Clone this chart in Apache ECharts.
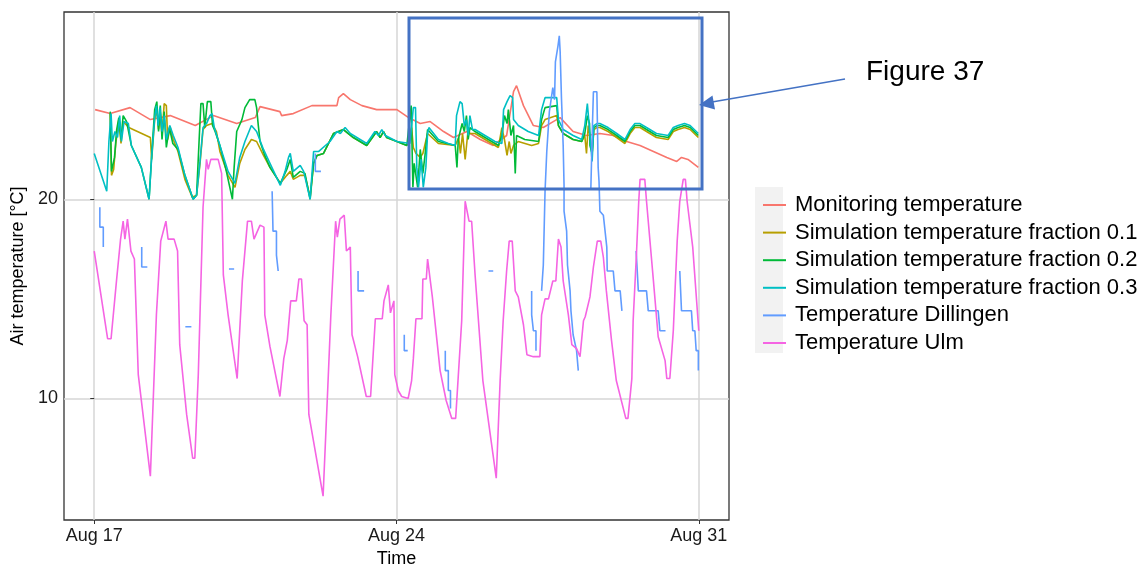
<!DOCTYPE html>
<html>
<head>
<meta charset="utf-8">
<script src="https://cdn.jsdelivr.net/npm/echarts@6/dist/echarts.min.js"></script>
<style>
html, body { margin: 0; padding: 0; background: #fff; }
#chart { width: 1147px; height: 566px; }
</style>
</head>
<body>
<div id="chart"></div>
<script>
// x = days since Aug 17 00:00, y = air temperature in °C
var xTickValues = [0, 7, 14];
var xTickLabels = ['Aug 17', 'Aug 24', 'Aug 31'];
var yTickValues = [10, 20];

var seriesNames = ['Monitoring temperature', 'Simulation temperature fraction 0.1',
    'Simulation temperature fraction 0.2', 'Simulation temperature fraction 0.3',
    'Temperature Dillingen', 'Temperature Ulm'];
var seriesColors = ['#F8766D', '#B79F00', '#00BA38', '#00BFC4', '#619CFF', '#F564E3'];

var monitoring = [[0.02,24.5],[0.37,24.3],[0.83,24.6],[1.30,24.0],[1.76,24.2],[2.34,23.7],[2.76,24.2],[3.30,23.8],
    [3.73,24.1],[3.84,24.65],[4.30,24.4],[4.34,24.2],[4.61,24.3],[5.04,24.7],[5.62,24.7],[5.66,25.1],[5.77,25.3],
    [5.93,25.0],[6.20,24.7],[6.54,24.5],[7.01,24.5],[7.28,24.1],[7.55,23.8],[7.78,23.9],[8.09,23.4],[8.32,23.1],
    [8.63,23.4],[8.94,23.0],[9.24,22.7],[9.55,23.2],[9.71,25.4],[9.78,25.7],[9.94,24.7],[10.17,23.7],[10.40,23.6],
    [10.63,23.9],[10.79,24.1],[11.09,23.4],[11.40,23.2],[11.71,23.3],[12.02,23.2],[12.33,22.9],[12.64,22.7],
    [12.95,22.4],[13.26,22.1],[13.49,21.9],[13.60,22.1],[13.75,22.0],[13.99,21.6]];

var simFraction01 = [[0.37,24.3],[0.40,21.2],[0.45,21.5],[0.50,22.8],[0.57,24.0],[0.62,22.8],[0.67,23.9],[0.80,23.6],
    [1.00,23.4],[1.30,23.1],[1.33,22.0],[1.40,24.0],[1.45,24.5],[1.49,23.5],[1.53,24.3],[1.57,23.2],[1.62,24.8],
    [1.67,24.7],[1.70,23.0],[1.76,23.6],[1.83,23.0],[1.94,22.4],[2.10,21.0],[2.27,20.1],[2.37,20.2],[2.45,21.8],
    [2.52,23.5],[2.60,23.7],[2.73,23.8],[2.83,23.4],[2.91,22.4],[3.10,21.2],[3.26,20.6],[3.37,21.8],[3.49,22.5],
    [3.64,23.0],[3.76,22.9],[3.92,22.2],[4.07,21.6],[4.31,20.8],[4.46,21.2],[4.54,21.4],[4.61,21.0],[4.77,21.2],
    [4.88,21.2],[5.00,20.1],[5.08,21.8],[5.16,22.2],[5.31,22.3],[5.54,23.3],[5.77,23.5],[6.00,23.1],[6.31,22.7],
    [6.54,23.4],[6.62,23.1],[6.70,23.4],[6.77,23.1],[7.01,22.9],[7.24,22.7],[7.35,23.6],[7.39,22.6],[7.45,22.3],
    [7.55,22.1],[7.61,22.3],[7.72,23.3],[7.97,22.8],[8.36,22.7],[8.44,23.1],[8.48,22.3],[8.53,23.3],[8.59,22.0],
    [8.65,23.3],[8.82,23.3],[9.05,23.0],[9.36,22.6],[9.44,23.6],[9.50,23.0],[9.56,22.2],[9.61,22.9],[9.65,22.3],
    [9.71,22.7],[9.82,22.9],[10.13,22.7],[10.29,22.8],[10.36,23.7],[10.44,24.0],[10.71,24.2],[10.75,23.7],
    [10.86,23.3],[11.09,23.0],[11.29,22.9],[11.36,23.2],[11.40,22.3],[11.44,23.7],[11.48,23.2],[11.53,22.3],
    [11.57,23.5],[11.64,23.6],[11.71,23.6],[11.90,23.4],[12.10,23.1],[12.29,22.8],[12.41,23.3],[12.52,23.6],
    [12.64,23.6],[12.79,23.4],[13.02,23.1],[13.29,23.0],[13.41,23.4],[13.52,23.5],[13.67,23.6],[13.80,23.5],[13.99,23.1]];

var simFraction02 = [[0.37,24.4],[0.40,21.4],[0.47,22.1],[0.52,23.5],[0.57,24.1],[0.62,23.0],[0.67,24.2],[0.75,23.9],
    [0.86,22.7],[1.09,21.6],[1.27,20.0],[1.33,22.2],[1.40,24.5],[1.45,24.9],[1.49,23.4],[1.53,24.7],[1.57,23.0],
    [1.62,24.4],[1.67,22.6],[1.74,23.6],[1.82,22.8],[1.94,22.5],[2.10,21.2],[2.29,20.0],[2.37,20.2],[2.43,23.0],
    [2.47,24.8],[2.52,24.8],[2.56,23.6],[2.62,24.9],[2.70,24.9],[2.74,23.7],[2.80,23.4],[2.91,22.7],[3.05,21.5],
    [3.20,20.0],[3.24,21.6],[3.30,23.4],[3.42,24.0],[3.49,24.6],[3.60,25.0],[3.72,25.0],[3.76,24.6],[3.80,23.7],
    [3.84,22.9],[3.95,22.2],[4.07,21.6],[4.31,20.8],[4.46,21.5],[4.54,22.0],[4.61,21.1],[4.77,21.4],[4.88,21.3],
    [5.00,20.0],[5.08,21.8],[5.16,22.2],[5.31,22.3],[5.54,23.3],[5.77,23.5],[6.00,23.1],[6.31,22.7],[6.54,23.4],
    [6.62,23.1],[6.70,23.4],[6.77,23.1],[7.01,22.9],[7.24,22.7],[7.34,24.7],[7.38,20.6],[7.41,21.8],[7.49,20.6],
    [7.55,22.5],[7.61,21.3],[7.66,22.2],[7.72,23.5],[7.75,23.5],[7.97,22.9],[8.36,22.7],[8.40,21.6],[8.43,23.0],
    [8.52,23.8],[8.57,23.4],[8.62,24.2],[8.66,23.0],[8.70,23.6],[8.82,23.4],[9.05,23.1],[9.36,22.7],[9.44,23.2],
    [9.50,24.2],[9.56,23.8],[9.59,24.5],[9.65,23.2],[9.71,23.7],[9.75,21.3],[9.78,23.2],[9.97,23.0],[10.29,22.9],
    [10.36,24.0],[10.44,24.6],[10.71,24.7],[10.75,23.7],[10.86,23.3],[11.09,23.0],[11.29,22.9],[11.36,23.3],
    [11.42,24.2],[11.47,23.8],[11.48,22.7],[11.53,22.3],[11.57,23.6],[11.64,23.7],[11.71,23.7],[11.90,23.5],
    [12.10,23.2],[12.29,22.9],[12.41,23.4],[12.52,23.7],[12.64,23.7],[12.79,23.5],[13.02,23.2],[13.29,23.1],
    [13.41,23.5],[13.52,23.6],[13.67,23.7],[13.80,23.6],[13.99,23.2]];

var simFraction03 = [[0,22.3],[0.29,20.4],[0.34,22.9],[0.39,24.3],[0.42,22.9],[0.48,23.4],[0.54,23.1],[0.59,24.2],
    [0.63,22.9],[0.69,23.9],[0.79,23.8],[0.86,22.7],[1.09,21.6],[1.27,20.0],[1.33,22.1],[1.40,24.1],[1.44,24.7],
    [1.48,23.7],[1.52,24.6],[1.57,23.4],[1.62,24.2],[1.67,23.0],[1.75,23.7],[1.83,23.2],[1.94,22.6],[2.10,21.2],
    [2.29,20.0],[2.37,20.2],[2.45,21.9],[2.52,23.6],[2.60,23.8],[2.68,24.2],[2.73,24.3],[2.78,23.6],[2.91,22.7],
    [3.10,21.4],[3.26,20.8],[3.37,22.1],[3.49,22.9],[3.64,23.7],[3.76,23.4],[3.92,22.5],[4.07,21.8],[4.31,20.7],
    [4.42,21.4],[4.50,22.1],[4.54,22.3],[4.61,21.4],[4.77,21.7],[4.85,21.4],[5.00,20.0],[5.08,22.4],[5.20,22.4],
    [5.46,22.9],[5.62,23.4],[5.70,23.3],[5.81,23.6],[5.93,23.3],[6.31,22.8],[6.50,23.4],[6.58,23.2],[6.66,23.5],
    [6.74,23.2],[7.01,22.9],[7.31,22.8],[7.39,24.6],[7.44,24.6],[7.47,21.6],[7.51,20.6],[7.57,22.0],[7.62,20.6],
    [7.68,21.6],[7.72,23.3],[7.75,23.6],[7.97,23.0],[8.20,22.8],[8.36,22.7],[8.39,24.2],[8.47,24.9],[8.52,24.8],
    [8.57,23.7],[8.62,24.0],[8.66,23.2],[8.70,24.2],[8.76,23.5],[8.82,23.5],[9.05,23.2],[9.28,22.9],[9.44,22.8],
    [9.48,24.5],[9.56,24.9],[9.63,25.2],[9.69,25.1],[9.71,24.0],[9.82,23.7],[10.05,23.4],[10.29,23.2],[10.36,24.5],
    [10.44,25.1],[10.71,25.1],[10.75,24.0],[10.86,23.5],[11.09,23.2],[11.29,23.0],[11.36,23.7],[11.42,24.8],
    [11.46,24.9],[11.50,22.7],[11.53,21.9],[11.57,23.7],[11.64,23.8],[11.71,23.8],[11.90,23.6],[12.10,23.3],
    [12.29,23.0],[12.41,23.5],[12.52,23.8],[12.64,23.8],[12.79,23.6],[13.02,23.3],[13.29,23.2],[13.41,23.6],
    [13.52,23.7],[13.67,23.8],[13.80,23.7],[13.99,23.3]];

// Dillingen has gaps: one list per recorded stretch
var dillingen = [
    [[0.13,19.6],[0.13,18.6],[0.21,18.6],[0.21,17.6]],
    [[1.10,17.6],[1.10,16.6],[1.23,16.6]],
    [[2.11,13.6],[2.25,13.6]],
    [[3.12,16.5],[3.24,16.5]],
    [[4.12,20.4],[4.14,18.4],[4.22,18.4],[4.22,17.2],[4.26,17.2],[4.26,16.4]],
    [[5.12,22.3],[5.12,21.4],[5.25,21.4]],
    [[6.11,16.4],[6.11,15.4],[6.25,15.4]],
    [[7.18,13.2],[7.18,12.4],[7.26,12.4]],
    [[8.13,12.4],[8.13,11.4],[8.20,11.4],[8.20,10.4],[8.25,10.4],[8.25,9.5]],
    [[9.13,16.4],[9.24,16.4]],
    [[10.13,15.4],[10.13,14.2],[10.17,14.2],[10.17,13.4],[10.23,13.4],[10.23,12.4]],
    [[10.36,15.4],[10.40,16.7],[10.44,20.4],[10.48,22.4],[10.54,24.4],[10.62,25.6],[10.66,25.0],[10.68,26.9],
     [10.74,27.7],[10.77,28.2],[10.79,27.4],[10.82,25.1],[10.86,22.7],[10.88,20.7],[10.88,19.4],[10.94,18.4],
     [10.96,16.7],[11.02,15.4],[11.04,14.4],[11.09,13.2],[11.17,12.4],[11.21,11.4]],
    [[11.50,20.5],[11.54,23.9],[11.56,25.4],[11.64,25.4],[11.67,21.6],[11.69,20.9],[11.71,19.4],[11.79,19.2],
     [11.87,17.6],[11.88,16.4],[12.02,16.4],[12.06,15.4],[12.18,15.4],[12.22,14.4]],
    [[12.55,17.4],[12.60,15.4],[12.79,15.4],[12.83,14.4],[13.06,14.4],[13.10,13.4],[13.23,13.4]],
    [[13.56,16.4],[13.60,14.4],[13.83,14.4],[13.86,13.4],[13.91,13.4],[13.94,12.4],[13.99,12.4],[13.99,11.4]]
];

var ulm = [[0,17.4],[0.31,13.0],[0.39,13.0],[0.52,16.0],[0.56,16.1],[0.61,18.0],[0.67,18.9],[0.71,18.0],[0.77,19.0],
    [0.85,17.4],[0.93,17.0],[1.02,11.2],[1.30,6.1],[1.44,14.2],[1.54,17.9],[1.66,18.9],[1.71,18.0],[1.85,18.0],
    [1.93,17.4],[1.98,12.7],[2.14,9.2],[2.28,7.0],[2.33,7.0],[2.41,11.2],[2.52,19.6],[2.60,22.0],[2.64,21.5],
    [2.70,22.0],[2.87,22.0],[2.95,21.3],[2.99,16.2],[3.10,14.2],[3.31,11.0],[3.43,15.9],[3.55,18.9],[3.64,18.9],
    [3.70,18.0],[3.84,18.7],[3.93,18.6],[3.95,14.2],[4.07,12.6],[4.30,10.1],[4.39,12.0],[4.47,12.9],[4.55,14.9],
    [4.68,14.9],[4.74,16.0],[4.80,16.0],[4.86,13.9],[4.93,13.7],[4.97,9.2],[5.30,5.1],[5.40,10.1],[5.48,14.2],
    [5.59,18.9],[5.63,18.1],[5.69,19.0],[5.79,19.2],[5.84,17.4],[5.93,17.6],[5.97,13.2],[6.10,12.1],[6.30,10.1],
    [6.40,10.1],[6.51,14.0],[6.67,14.0],[6.71,14.9],[6.81,15.7],[6.86,14.3],[6.94,14.9],[6.96,11.2],[7.04,10.4],
    [7.12,10.1],[7.27,10.0],[7.35,10.9],[7.39,12.0],[7.45,14.0],[7.59,14.0],[7.61,16.0],[7.69,16.0],[7.72,17.0],
    [7.83,15.1],[8.01,11.4],[8.15,9.9],[8.28,9.0],[8.37,9.0],[8.51,13.9],[8.59,19.9],[8.62,19.9],[8.68,18.9],
    [8.74,18.9],[8.82,16.2],[9.00,10.9],[9.31,6.0],[9.40,10.9],[9.47,13.9],[9.55,16.4],[9.61,17.9],[9.68,17.9],
    [9.75,15.4],[9.82,15.1],[9.94,13.7],[10.02,12.2],[10.17,12.1],[10.32,12.1],[10.36,14.2],[10.44,15.0],
    [10.52,15.0],[10.62,15.9],[10.69,15.9],[10.75,18.0],[10.81,17.6],[10.86,15.9],[10.98,14.2],[11.06,12.7],
    [11.17,12.5],[11.25,12.1],[11.33,13.9],[11.37,14.1],[11.48,15.1],[11.56,16.6],[11.65,17.9],[11.73,17.9],
    [11.79,17.1],[11.86,15.4],[11.98,12.9],[12.09,10.9],[12.31,9.0],[12.36,9.0],[12.45,11.0],[12.48,13.9],
    [12.56,17.4],[12.61,19.9],[12.64,21.0],[12.75,21.0],[12.79,19.9],[12.95,15.9],[13.06,13.1],[13.22,11.9],
    [13.26,11.0],[13.33,11.0],[13.41,13.4],[13.50,17.9],[13.56,19.9],[13.64,21.0],[13.69,21.0],[13.73,19.9],
    [13.86,17.6],[14.0,13.4]];

// join the Dillingen stretches, a null point breaks the line
var dillingenData = [];
dillingen.forEach(function (part, i) {
    if (i > 0) dillingenData.push([part[0][0] - 0.01, null]);
    dillingenData = dillingenData.concat(part);
});

var font = '"Liberation Sans", Arial, sans-serif';
var allData = [monitoring, simFraction01, simFraction02, simFraction03, dillingenData, ulm];

var chart = echarts.init(document.getElementById('chart'));
var option = {
    animation: false,
    textStyle: { fontFamily: font },
    grid: {
        left: 64, right: 418, top: 12, bottom: 46,
        outerBoundsMode: 'none',
        show: true,
        borderColor: '#333',
        borderWidth: 1.3
    },
    legend: {
        orient: 'vertical',
        left: 757,
        top: 189,
        itemWidth: 23,
        itemHeight: 20,
        itemGap: 5.6,
        itemStyle: { opacity: 0 },
        data: seriesNames,
        textStyle: { fontSize: 22, color: '#000', fontFamily: font, padding: [0, 0, 0, 4] }
    },
    xAxis: {
        type: 'value',
        min: -0.7,
        max: 14.7,
        name: 'Time',
        nameLocation: 'middle',
        nameGap: 30,
        nameTextStyle: { fontSize: 18, color: '#000' },
        axisLine: { show: false },
        axisTick: { customValues: xTickValues, length: 4, lineStyle: { color: '#333' } },
        axisLabel: {
            customValues: xTickValues,
            fontSize: 18,
            color: '#1a1a1a',
            margin: 7,
            formatter: function (v) { return xTickLabels[xTickValues.indexOf(v)] || ''; }
        },
        splitLine: { show: true, lineStyle: { color: '#d6d6d6', width: 1.5 } }
    },
    yAxis: {
        type: 'value',
        min: 3.9,
        max: 29.4,
        name: 'Air temperature [°C]',
        nameLocation: 'middle',
        nameGap: 31,
        nameTextStyle: { fontSize: 18, color: '#000' },
        axisLine: { show: false },
        axisTick: { customValues: yTickValues, length: 4, lineStyle: { color: '#333' } },
        axisLabel: { customValues: yTickValues, fontSize: 18, color: '#1a1a1a', margin: 6 },
        splitLine: { show: true, lineStyle: { color: '#d6d6d6', width: 1.5 } }
    },
    series: seriesNames.map(function (name, i) {
        return {
            name: name,
            type: 'line',
            data: allData[i],
            symbol: 'none',
            connectNulls: false,
            color: seriesColors[i],
            lineStyle: { width: 1.6, color: seriesColors[i] }
        };
    }),
    graphic: [
        // grey background behind the legend keys
        { type: 'rect', z: 0, shape: { x: 755, y: 187, width: 28, height: 166 }, style: { fill: '#f2f2f2' } },
        // annotation: box, arrow and label
        { type: 'rect', z: 100, shape: { x: 409, y: 18, width: 293, height: 171 },
          style: { fill: 'none', stroke: '#4472C4', lineWidth: 3 } },
        { type: 'line', z: 100, shape: { x1: 845, y1: 79, x2: 712, y2: 102 },
          style: { stroke: '#4472C4', lineWidth: 1.5 } },
        { type: 'polygon', z: 100, shape: { points: [[699, 105], [715, 109.5], [712.5, 95.5]] },
          style: { fill: '#4472C4' } },
        { type: 'text', z: 100, style: { text: 'Figure 37', x: 866, y: 72, verticalAlign: 'middle',
          font: '28px ' + font, fill: '#000' } }
    ]
};
chart.setOption(option);
</script>
</body>
</html>
